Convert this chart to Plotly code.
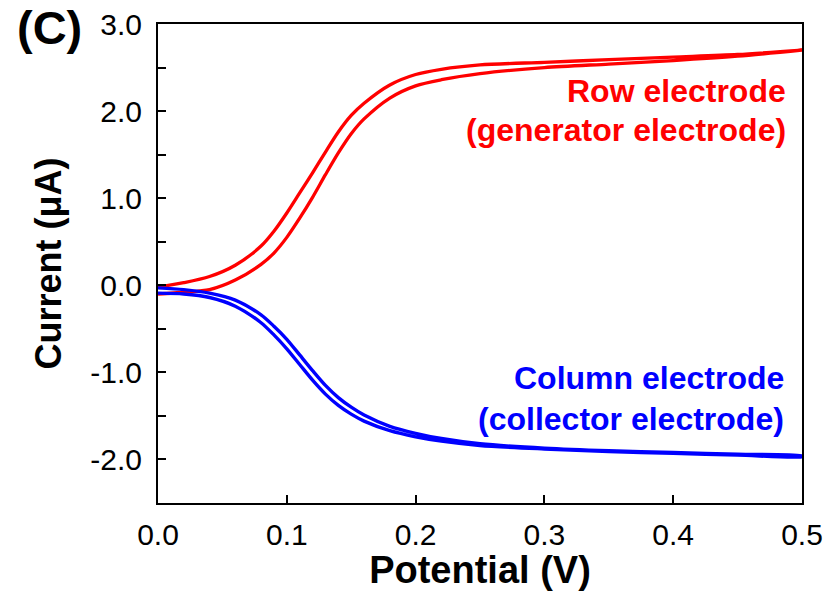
import plotly.graph_objects as go

# Potential (V)
potential = [0.00, 0.02, 0.04, 0.06, 0.08, 0.09, 0.10, 0.11, 0.12, 0.13, 0.14,
             0.15, 0.16, 0.18, 0.20, 0.22, 0.25, 0.30, 0.35, 0.40, 0.45, 0.50]

# Row electrode (generator) current, uA: two sweep branches
row_upper = [-0.02, 0.03, 0.10, 0.23, 0.45, 0.62, 0.83, 1.06, 1.29, 1.53, 1.76,
             1.95, 2.09, 2.30, 2.42, 2.48, 2.53, 2.56, 2.59, 2.62, 2.65, 2.70]
row_lower = [-0.10, -0.08, -0.05, 0.06, 0.24, 0.37, 0.55, 0.77, 1.01, 1.27, 1.52,
             1.74, 1.91, 2.15, 2.29, 2.36, 2.43, 2.50, 2.54, 2.58, 2.63, 2.70]

# Column electrode (collector) current, uA: two sweep branches
col_upper = [-0.03, -0.05, -0.09, -0.17, -0.34, -0.47, -0.62, -0.80, -0.98, -1.15, -1.29,
             -1.40, -1.49, -1.62, -1.70, -1.76, -1.82, -1.87, -1.90, -1.92, -1.94, -1.96]
col_lower = [-0.09, -0.10, -0.14, -0.24, -0.43, -0.57, -0.73, -0.91, -1.09, -1.25, -1.38,
             -1.48, -1.56, -1.67, -1.74, -1.79, -1.84, -1.88, -1.91, -1.93, -1.95, -1.97]

x_ticks = [0.0, 0.1, 0.2, 0.3, 0.4, 0.5]
x_ticklabels = ["0.0", "0.1", "0.2", "0.3", "0.4", "0.5"]
y_ticks = [-2.0, -1.0, 0.0, 1.0, 2.0, 3.0]
y_ticklabels = ["-2.0", "-1.0", "0.0", "1.0", "2.0", "3.0"]

FONT = "Liberation Sans, Arial, Helvetica, sans-serif"

fig = go.Figure()
fig.add_trace(go.Scatter(
    x=potential + potential[::-1],
    y=row_lower + row_upper[::-1],
    mode="lines", line=dict(color="#ff0000", width=3.3, shape="spline", smoothing=0.8),
    showlegend=False, hoverinfo="skip"))
fig.add_trace(go.Scatter(
    x=potential + potential[::-1],
    y=col_upper + col_lower[::-1],
    mode="lines", line=dict(color="#0000ff", width=3.4, shape="spline", smoothing=0.8),
    showlegend=False, hoverinfo="skip"))

fig.update_layout(
    width=827, height=591,
    margin=dict(l=158, r=25, t=24, b=88),
    paper_bgcolor="white", plot_bgcolor="white",
    font=dict(family=FONT, color="black"),
    showlegend=False,
)

fig.update_xaxes(
    range=[0, 0.5], tickvals=x_ticks, ticktext=x_ticklabels,
    ticks="inside", ticklen=8, tickwidth=2, tickcolor="black",
    showline=True, linewidth=2, linecolor="black", mirror=True,
    showgrid=False, zeroline=False, automargin=False,
    tickfont=dict(size=30, family=FONT, color="black"),
    ticklabelstandoff=4,
    title=dict(text="<b>Potential (V)</b>", font=dict(size=38, family=FONT, color="black"),
               standoff=6),
)
fig.update_yaxes(
    range=[-2.5, 3.0], tickvals=y_ticks, ticktext=y_ticklabels,
    ticks="inside", ticklen=8, tickwidth=2, tickcolor="black",
    minor=dict(dtick=0.5, tick0=0, ticks="inside", ticklen=8, tickwidth=2, tickcolor="black", showgrid=False),
    showline=True, linewidth=2, linecolor="black", mirror=True,
    showgrid=False, zeroline=False, automargin=False,
    tickfont=dict(size=30, family=FONT, color="black"),
    ticklabelstandoff=8,
    title=dict(text="<b>Current (μA)</b>", font=dict(size=36, family=FONT, color="black"),
               standoff=18),
)

ann_font_red = dict(size=32, family=FONT, color="#ff0000")
ann_font_blue = dict(size=32, family=FONT, color="#0000ff")
annotations = [
    dict(text="<b>(C)</b>", x=-0.169, y=0.992, font=dict(size=47, family=FONT, color="black")),
    dict(text="<b>Row electrode</b>", x=0.978, y=0.860, xanchor="right", font=ann_font_red),
    dict(text="<b>(generator electrode)</b>", x=0.978, y=0.779, xanchor="right", font=ann_font_red),
    dict(text="<b>Column electrode</b>", x=0.975, y=0.261, xanchor="right", font=ann_font_blue),
    dict(text="<b>(collector electrode)</b>", x=0.975, y=0.175, xanchor="right", font=ann_font_blue),
]
for a in annotations:
    a.setdefault("xanchor", "center")
    fig.add_annotation(xref="paper", yref="paper", yanchor="middle", showarrow=False, **a)

fig.write_html("out.html")
